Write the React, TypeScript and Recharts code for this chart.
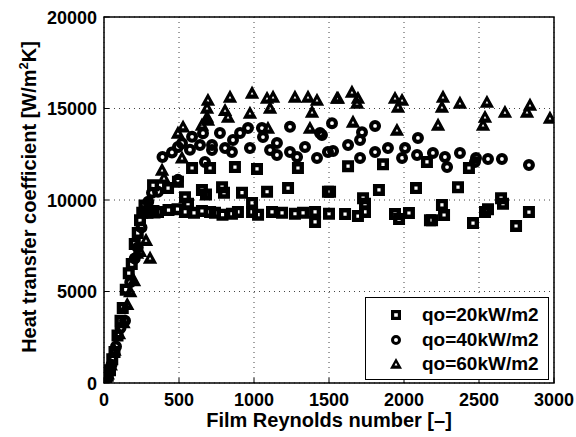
import { ScatterChart, Scatter, XAxis, YAxis, CartesianGrid, ReferenceArea, Legend } from 'recharts';

const FONT = '"Liberation Sans", Arial, Helvetica, sans-serif';

const X_TICKS = [0, 500, 1000, 1500, 2000, 2500, 3000];
const Y_TICKS = [0, 5000, 10000, 15000, 20000];

const SERIES_NAMES = ['qo=20kW/m2', 'qo=40kW/m2', 'qo=60kW/m2'];

// film Reynolds number, heat transfer coefficient
const Q20: [number, number][] = [
  [15, 150], [25, 400], [40, 700], [55, 1300], [70, 1700], [90, 2600], [110, 3400], [125, 4100],
  [145, 5100], [165, 6000], [185, 6500], [205, 7600], [225, 8200], [240, 8900], [255, 9300], [270, 9700],
  [290, 9300], [330, 9400], [360, 9350], [430, 9450], [490, 9500], [540, 9350], [600, 9300], [653, 9400],
  [707, 9350], [740, 9300], [790, 9200], [853, 9250], [893, 9350], [987, 9350], [1027, 9200], [1120, 9350],
  [1187, 9300], [1273, 9250], [1327, 9300], [1407, 8800], [1407, 9350], [1500, 9250], [1607, 9230], [1693, 9120],
  [1740, 9350], [1940, 9230], [1967, 8960], [2033, 9290], [2173, 8900], [2187, 8900], [2267, 9180], [2253, 9730],
  [2460, 8740], [2540, 9340], [2560, 9500], [2747, 8580], [2833, 9340],
  [327, 10800], [427, 10650], [493, 11000], [540, 10150], [560, 9800], [653, 10550], [680, 10300], [787, 10700],
  [800, 10400], [920, 10400], [987, 9840], [1087, 10450], [1227, 10650], [1493, 10450], [1507, 10450], [1727, 10100],
  [1740, 9800], [1833, 10550], [2080, 10650], [2360, 10700], [2647, 10100], [2660, 9800],
  [587, 11750], [707, 11750], [873, 11800], [1020, 11700], [1293, 11750], [1627, 11850], [1860, 11950], [2153, 12080],
  [2433, 11750],
];

const Q40: [number, number][] = [
  [20, 300], [50, 1000], [80, 2000], [110, 3000], [140, 3400], [175, 5500], [205, 6800], [225, 7400],
  [250, 8500], [270, 9400], [295, 9900], [320, 10400], [360, 10450], [390, 12350], [453, 12600], [493, 11100],
  [493, 12900], [520, 13100], [573, 12750], [587, 13450], [640, 13000], [660, 13650], [673, 12080], [720, 12730],
  [720, 13000], [773, 13660], [807, 12840], [853, 12620], [860, 13280], [907, 13660], [960, 13930], [973, 12840],
  [1053, 13930], [1060, 13440], [1107, 12730], [1153, 13110], [1153, 12460], [1240, 14000], [1240, 12620], [1287, 12350],
  [1340, 12900], [1420, 12300], [1440, 13660], [1453, 13550], [1493, 12620], [1520, 14200], [1527, 12680], [1627, 13000],
  [1707, 13280], [1707, 12300], [1720, 13700], [1807, 14050], [1807, 12620], [1893, 12840], [1987, 12300], [2007, 12840],
  [2087, 12460], [2093, 13390], [2193, 12570], [2273, 12350], [2287, 11800], [2373, 12570], [2473, 12080], [2480, 12300],
  [2560, 12240], [2653, 12240], [2833, 11910],
];

const Q60: [number, number][] = [
  [25, 500], [45, 1000], [70, 1800], [100, 2700], [130, 3300], [155, 4300], [175, 5000], [200, 5600],
  [220, 7100], [240, 7200], [280, 7800], [307, 6830], [330, 9300], [387, 11640], [400, 11200], [493, 13660],
  [520, 12300], [527, 14000], [653, 14100], [687, 14530], [693, 14370], [687, 15030], [693, 15460], [807, 14900],
  [827, 14530], [840, 15630], [973, 14750], [987, 15850], [1087, 15570], [1093, 13930], [1107, 15030], [1127, 15630],
  [1273, 15630], [1360, 15630], [1373, 13930], [1387, 14810], [1420, 15460], [1553, 15570], [1560, 15570], [1653, 15900],
  [1660, 14260], [1687, 15300], [1693, 15570], [1940, 15570], [1953, 13820], [1960, 15080], [1987, 15460], [2227, 14100],
  [2253, 15080], [2260, 15630], [2373, 15300], [2527, 14100], [2540, 14530], [2553, 15350], [2673, 14800], [2820, 14810],
  [2840, 15190], [2973, 14480],
];

const toRows = (pts: [number, number][]) => pts.map(([re, h]) => ({ re, h }));

const INK = '#000';

// heavy MATLAB-style open markers, drawn as filled rings
const squareRing = (x: number, y: number, o: number, i: number) =>
  `M${x - o},${y - o}h${2 * o}v${2 * o}h${-2 * o}z M${x - i},${y - i}v${2 * i}h${2 * i}v${-2 * i}z`;
const circleRing = (x: number, y: number, o: number, i: number) =>
  `M${x - o},${y}a${o},${o} 0 1,0 ${2 * o},0a${o},${o} 0 1,0 ${-2 * o},0z M${x - i},${y}a${i},${i} 0 1,1 ${2 * i},0a${i},${i} 0 1,1 ${-2 * i},0z`;
const triRing = (x: number, y: number, s: number, t: number) =>
  `M${x},${y - s * 1.1}L${x + s},${y + s * 0.72}L${x - s},${y + s * 0.72}z M${x},${y - t * 1.1}L${x - t},${y + t * 0.72}L${x + t},${y + t * 0.72}z`;

function SquareMark(props: any) {
  return <path d={squareRing(props.cx, props.cy, 6, 1.6)} fill={INK} stroke="none" />;
}
function CircleMark(props: any) {
  return <path d={circleRing(props.cx, props.cy, 6, 1.9)} fill={INK} stroke="none" />;
}
function TriangleMark(props: any) {
  return <path d={triRing(props.cx, props.cy + 0.5, 7.2, 1.4)} fill={INK} stroke="none" />;
}

const BottomTick = (p: any) => (
  <g>
    <line x1={p.x} y1={p.y} x2={p.x} y2={p.y - 5} stroke="#000" strokeWidth={1} />
    <text x={p.x} y={p.y + 23} textAnchor="middle" fontFamily={FONT} fontWeight="bold" fontSize={18} fill="#000">
      {p.payload.value}
    </text>
  </g>
);
const LeftTick = (p: any) => (
  <g>
    <line x1={p.x} y1={p.y} x2={p.x + 5} y2={p.y} stroke="#000" strokeWidth={1} />
    <text x={p.x - 7} y={p.y + 6.5} textAnchor="end" fontFamily={FONT} fontWeight="bold" fontSize={18} fill="#000">
      {p.payload.value}
    </text>
  </g>
);
const TopTick = (p: any) => <line x1={p.x} y1={p.y} x2={p.x} y2={p.y + 5} stroke="#000" strokeWidth={1} />;
const RightTick = (p: any) => <line x1={p.x} y1={p.y} x2={p.x - 5} y2={p.y} stroke="#000" strokeWidth={1} />;

const MARKS = [
  (x: number, y: number) => <path d={squareRing(x, y, 5, 1.8)} fill={INK} />,
  (x: number, y: number) => <path d={circleRing(x, y, 5, 2)} fill={INK} />,
  (x: number, y: number) => <path d={triRing(x, y + 0.5, 6, 1.5)} fill={INK} />,
];

function LegendBox() {
  return (
    <div
      style={{
        width: 184,
        height: 83,
        boxSizing: 'border-box',
        border: '1.5px solid #000',
        background: '#fff',
        position: 'relative',
        fontFamily: FONT,
        fontWeight: 'bold',
        fontSize: 19,
      }}
    >
      {SERIES_NAMES.map((name, i) => (
        <div key={name} style={{ position: 'absolute', left: 0, top: 5 + i * 24.5, height: 24, width: '100%' }}>
          <svg width={20} height={24} style={{ position: 'absolute', left: 20, top: 0 }}>
            {MARKS[i](10, 12)}
          </svg>
          <span style={{ position: 'absolute', left: 56, top: 1, lineHeight: '22px', whiteSpace: 'nowrap' }}>{name}</span>
        </div>
      ))}
    </div>
  );
}

export default function App() {
  return (
    <div style={{ position: 'absolute', left: 0, top: 0 }}>
      <ScatterChart width={576} height={437} margin={{ top: 17, right: 22, bottom: 0, left: 0 }}>
        <CartesianGrid stroke="#444" strokeDasharray="1 4" />
        <XAxis
          type="number"
          dataKey="re"
          domain={[0, 3000]}
          ticks={X_TICKS}
          interval={0}
          height={54}
          axisLine={false}
          tickSize={0}
          tickMargin={0}
          tick={BottomTick}
          allowDataOverflow
          label={{
            content: () => (
              <text x={329} y={427} textAnchor="middle" fontFamily={FONT} fontWeight="bold" fontSize={20} fill="#000">
                Film Reynolds number [–]
              </text>
            ),
          }}
        />
        <XAxis
          xAxisId="top"
          orientation="top"
          type="number"
          domain={[0, 3000]}
          ticks={X_TICKS}
          interval={0}
          height={0}
          axisLine={false}
          tickSize={0}
          tickMargin={0}
          tick={TopTick}
        />
        <YAxis
          type="number"
          dataKey="h"
          domain={[0, 20000]}
          ticks={Y_TICKS}
          interval={0}
          width={104}
          axisLine={false}
          tickSize={0}
          tickMargin={0}
          tick={LeftTick}
          allowDataOverflow
          label={{
            content: () => (
              <text
                transform="translate(36,197) rotate(-90)"
                textAnchor="middle"
                fontFamily={FONT}
                fontWeight="bold"
                fontSize={20}
                fill="#000"
              >
                Heat transfer coefficient [W/m
                <tspan dy={-8} fontSize={13}>
                  2
                </tspan>
                <tspan dy={8}>K]</tspan>
              </text>
            ),
          }}
        />
        <YAxis
          yAxisId="right"
          orientation="right"
          type="number"
          domain={[0, 20000]}
          ticks={Y_TICKS}
          interval={0}
          width={0}
          axisLine={false}
          tickSize={0}
          tickMargin={0}
          tick={RightTick}
        />
        <ReferenceArea x1={0} x2={3000} y1={0} y2={20000} fill="none" stroke="#000" strokeWidth={1.5} />
        <Scatter name={SERIES_NAMES[0]} data={toRows(Q20)} fill={INK} shape={SquareMark} isAnimationActive={false} />
        <Scatter name={SERIES_NAMES[1]} data={toRows(Q40)} fill={INK} shape={CircleMark} isAnimationActive={false} />
        <Scatter name={SERIES_NAMES[2]} data={toRows(Q60)} fill={INK} shape={TriangleMark} isAnimationActive={false} />
        <Legend
          layout="horizontal"
          verticalAlign="middle"
          align="center"
          content={() => <LegendBox />}
          wrapperStyle={{ left: 365, top: 297, width: 184, height: 83 }}
        />
      </ScatterChart>
    </div>
  );
}
